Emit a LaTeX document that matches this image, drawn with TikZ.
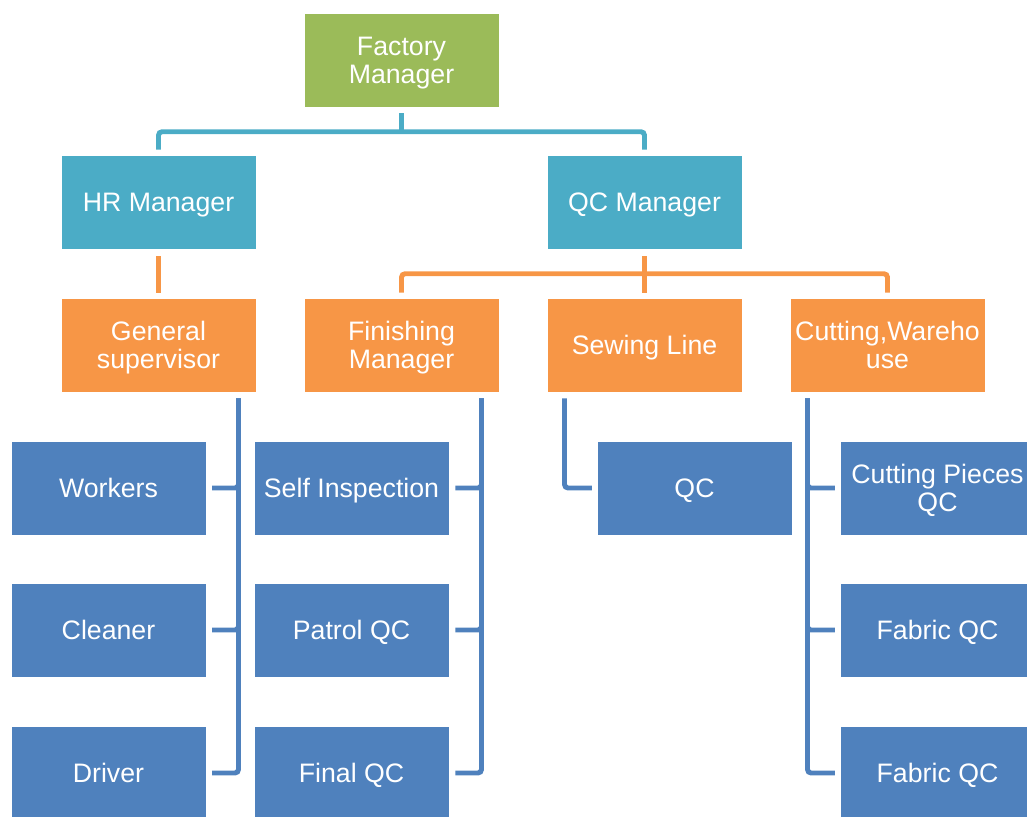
\documentclass[tikz,border=0pt]{standalone}
\usepackage{fontspec}
\setmainfont{Liberation Sans}
\usetikzlibrary{calc}
\definecolor{grn}{HTML}{9BBB59}
\definecolor{tel}{HTML}{4BACC6}
\definecolor{org}{HTML}{F79646}
\definecolor{blu}{HTML}{4F81BD}
\tikzset{
    card/.style={draw=white,line width=0.3pt,text=white,align=center,inner sep=0pt,
        minimum width=3.9cm,minimum height=1.88cm,text depth=0pt,
        font=\fontsize{15.2}{16}\selectfont},
    boss/.style={card,fill=grn},
    head/.style={card,fill=tel},
    lead/.style={card,fill=org},
    staff/.style={card,fill=blu},
    link/.style={line width=2.8pt,rounded corners=2pt}
}

\begin{document}
\begin{tikzpicture}[x=0.02cm,y=-0.02cm]
            \clip (0,0) rectangle (1027,817);
            % top two levels
            \node [boss] (fm) at (401.5,60) {Factory\\Manager};
            \node [head] (hr) at (158.5,202) {HR Manager};
            \node [head] (qcm) at (644.5,202) {QC Manager};
            % orange level
            \node [lead] (gs) at (158.5,345) {General\\supervisor};
            \node [lead] (fin) at (401.5,345) {Finishing\\Manager};
            \node [lead] (sl) at (644.5,345) {Sewing Line};
            \node [lead] (cw) at (887.5,345) {Cutting,Wareho\\use};
            % blue leaves
            \node [staff] (wrk) at (108.5,488) {Workers};
            \node [staff] (cln) at (108.5,630) {Cleaner};
            \node [staff] (drv) at (108.5,773) {Driver};
            \node [staff] (si) at (351.5,488) {Self Inspection};
            \node [staff] (pqc) at (351.5,630) {Patrol QC};
            \node [staff] (fqc) at (351.5,773) {Final QC};
            \node [staff] (qcb) at (694.5,488) {QC};
            \node [staff] (cp) at (937.5,488) {Cutting Pieces\\QC};
            \node [staff] (fa) at (937.5,630) {Fabric QC};
            \node [staff] (fb) at (937.5,773) {Fabric QC};

            \draw [link,tel] ($(fm.south)+(0,6)$) -- ($(fm.south)+(0,25)$);
            \draw [link,tel] ($(hr.north)+(0,-5)$) |- ($(qcm.north)+(0,-23)$)
                -- ($(qcm.north)+(0,-5)$);

            \draw [link,org] ($(hr.south)+(0,7)$) -- ($(gs.north)+(0,-5)$);
            \draw [link,org] ($(qcm.south)+(0,7)$) -- ($(sl.north)+(0,-5)$);
            \draw [link,org] ($(fin.north)+(0,-5)$) |- ($(cw.north)+(0,-24)$)
                -- ($(cw.north)+(0,-5)$);

            \foreach \c in {wrk,cln,drv} {
                \draw [link,blu] ($(\c.east)+(6,0)$) -| ($(gs.south)+(80,6)$);
            }
            \foreach \c in {si,pqc,fqc} {
                \draw [link,blu] ($(\c.east)+(6,0)$) -| ($(fin.south)+(80,6)$);
            }
            \draw [link,blu] ($(sl.south)+(-80,6)$) |- ($(qcb.west)+(-5,0)$);
            \foreach \c in {cp,fa,fb} {
                \draw [link,blu] ($(\c.west)+(-5,0)$) -| ($(cw.south)+(-80,6)$);
            }
        \end{tikzpicture}
\end{document}
